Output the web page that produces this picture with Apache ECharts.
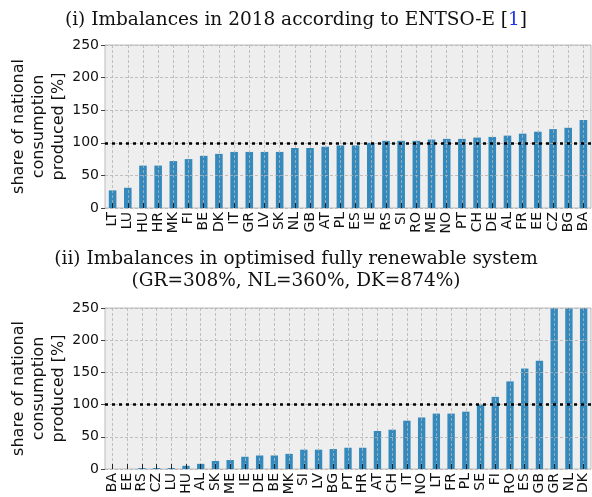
<!DOCTYPE html>
<html>
<head>
<meta charset="utf-8">
<title>imbalances</title>
<script src="https://cdn.jsdelivr.net/npm/echarts@6/dist/echarts.min.js"></script>
<style>
  html, body { margin: 0; padding: 0; background: #fff; }
  #main { width: 592px; height: 497px; }
</style>
</head>
<body>
<div id="main"></div>
<script>
// (i) 2018, ENTSO-E
var countries2018 = ['LT','LU','HU','HR','MK','FI','BE','DK','IT','GR','LV','SK','NL','GB','AT','PL','ES','IE','RS','SI','RO','ME','NO','PT','CH','DE','AL','FR','EE','CZ','BG','BA'];
var share2018 = [27, 31, 65, 65, 72, 75, 80, 83, 86, 86, 86, 86, 92, 92, 94, 96, 96, 100, 103, 103, 103, 105, 106, 106, 108, 109, 111, 114, 117, 121, 123, 135];

// (ii) optimised fully renewable system
var countriesOpt = ['BA','EE','RS','CZ','LU','HU','AL','SK','ME','IE','DE','BE','MK','SI','LV','BG','PT','HR','AT','CH','IT','NO','LT','FR','PL','SE','FI','RO','ES','GB','GR','NL','DK'];
var shareOpt = [0, 0, 1.5, 1.5, 1.5, 5, 8, 12.5, 14, 19, 21, 21, 23.5, 30, 30, 31, 33, 33, 59, 61, 75, 80, 86, 86, 89, 100, 112, 136, 156, 168, 308, 360, 874];

var yTicks = [0, 50, 100, 150, 200, 250];
var balanceLine = 100;

var chart = echarts.init(document.getElementById('main'));

var gridLine = { show: true, lineStyle: { color: '#b2b2b2', type: [3, 2], width: 0.8 } };

function xAxisFor(idx, data) {
  return {
    type: 'category', gridIndex: idx, data: data, z: 3,
    axisLine: { show: false },
    axisTick: { show: true, inside: true, alignWithLabel: true, length: 5, lineStyle: { color: '#222', width: 1 } },
    axisLabel: { rotate: 90, fontSize: 14, color: '#111', fontFamily: 'DejaVu Sans', margin: 4, interval: 0 },
    splitLine: Object.assign({ alignWithLabel: true }, gridLine)
  };
}
function yAxisFor(idx) {
  return {
    type: 'value', gridIndex: idx, min: yTicks[0], max: yTicks[yTicks.length - 1], interval: 50, z: 3,
    name: 'share of national\nconsumption\nproduced [%]',
    nameLocation: 'middle', nameGap: 36, nameRotate: 90, nameMoveOverlap: false,
    nameTextStyle: { fontSize: 16, color: '#111', fontFamily: 'DejaVu Sans', lineHeight: 20 },
    axisLine: { show: false },
    axisTick: { show: true, length: 4, lineStyle: { color: '#444' } },
    axisLabel: { fontSize: 14, color: '#111', fontFamily: 'DejaVu Sans', margin: 6 },
    splitLine: gridLine
  };
}
function seriesFor(idx, data) {
  return {
    type: 'bar', xAxisIndex: idx, yAxisIndex: idx, data: data,
    barWidth: '50%', itemStyle: { color: '#348ABD' },
    markLine: {
      silent: true, symbol: 'none', label: { show: false }, z: 5,
      lineStyle: { color: '#000', type: [3, 4], width: 2.5 },
      data: [{ yAxis: balanceLine }]
    }
  };
}

var serif = { fontFamily: 'DejaVu Serif', fontSize: 18.5, fontWeight: 'normal', color: '#111' };

chart.setOption({
  backgroundColor: '#fff',
  animation: false,
  title: [
    {
      text: '(i) Imbalances in 2018 according to ENTSO-E [{b|1}]',
      left: 'center', top: 6,
      textStyle: Object.assign({ rich: { b: { fontFamily: 'DejaVu Serif', fontSize: 18.5, color: '#2233ee' } } }, serif)
    },
    { text: '(ii) Imbalances in optimised fully renewable system', left: 'center', top: 245, textStyle: serif },
    { text: '(GR=308%, NL=360%, DK=874%)', left: 'center', top: 267, textStyle: serif }
  ],
  grid: [
    { left: 105, right: 1, top: 45, height: 163, outerBoundsMode: 'none', containLabel: false,
      show: true, backgroundColor: '#eeeeee', borderColor: '#bcbcbc', borderWidth: 1 },
    { left: 105, right: 1, top: 308, height: 161, outerBoundsMode: 'none', containLabel: false,
      show: true, backgroundColor: '#eeeeee', borderColor: '#bcbcbc', borderWidth: 1 }
  ],
  xAxis: [xAxisFor(0, countries2018), xAxisFor(1, countriesOpt)],
  yAxis: [yAxisFor(0), yAxisFor(1)],
  series: [seriesFor(0, share2018), seriesFor(1, shareOpt)]
});
</script>
</body>
</html>
